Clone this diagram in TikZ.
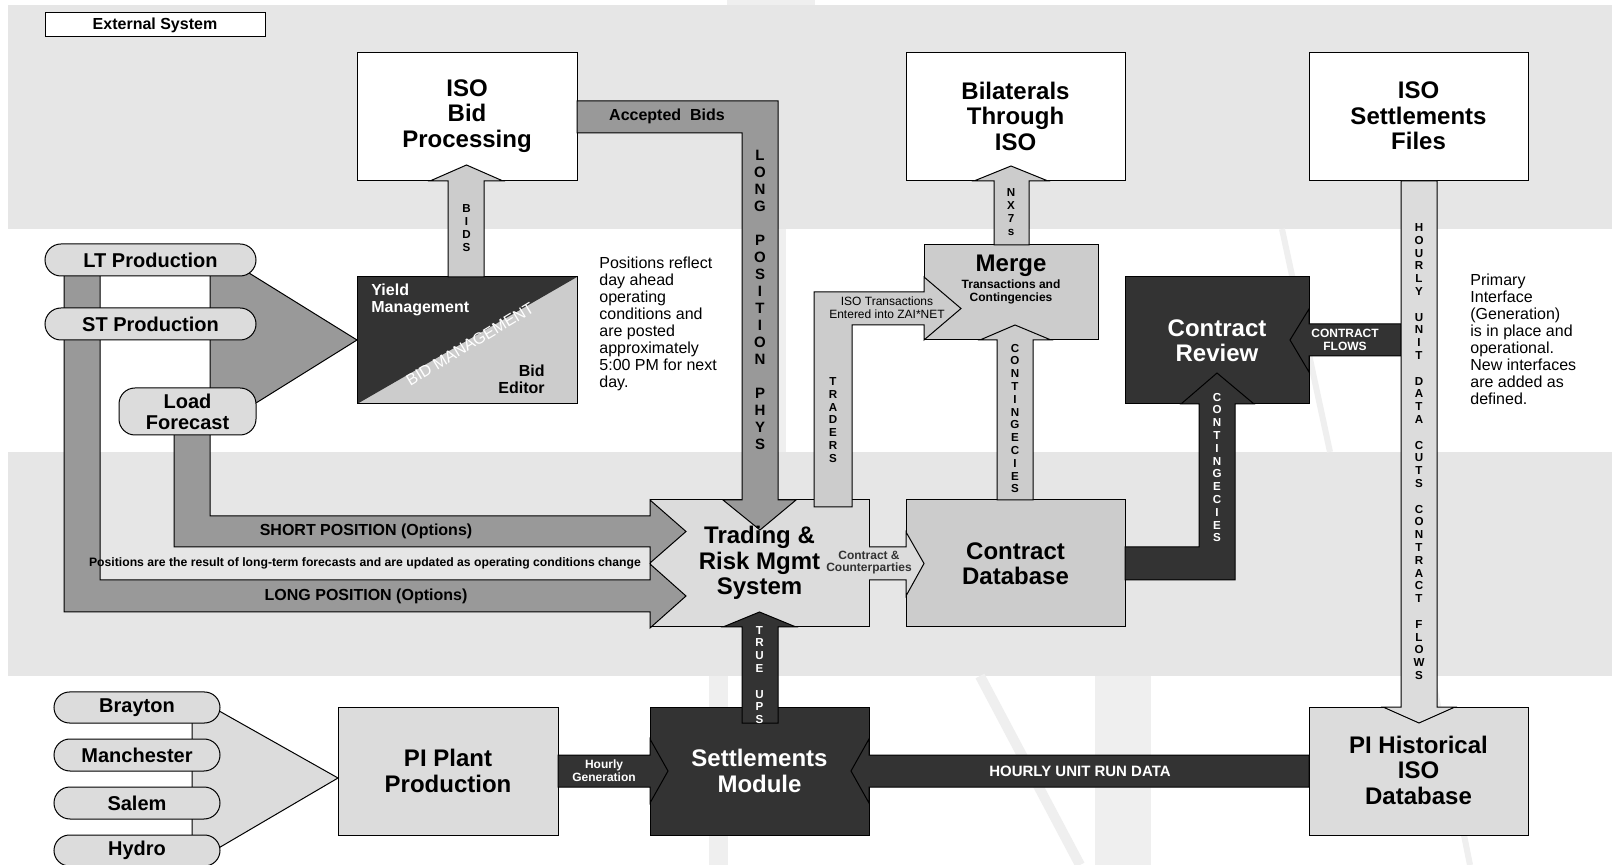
\documentclass[tikz,border=0pt]{standalone}
\usepackage{fontspec}
\setmainfont{Liberation Sans}
\definecolor{band}{HTML}{E6E6E6}
\definecolor{midg}{HTML}{999999}
\definecolor{lightg}{HTML}{CCCCCC}
\definecolor{darkg}{HTML}{333333}
\definecolor{hatchg}{HTML}{DCDCDC}
\definecolor{wmark}{HTML}{EFEFEF}
\tikzset{
  edge/.style={draw=black, line width=0.5pt},
  boxnode/.style={edge, inner sep=0pt, outer sep=0pt},
  title/.style={inner sep=0pt, align=center, font=\bfseries\fontsize{12pt}{12.75pt}\selectfont},
  ovalnode/.style={edge, fill=hatchg, rounded corners=8pt, inner sep=0pt, outer sep=0pt, align=center, font=\bfseries\fontsize{10pt}{10.5pt}\selectfont},
  vlet/.style={inner sep=0pt, align=center, font=\bfseries\fontsize{5.8pt}{6.4pt}\selectfont},
  vbig/.style={inner sep=0pt, align=center, font=\bfseries\fontsize{7.5pt}{8.5pt}\selectfont},
  lbl/.style={inner sep=0pt, align=center},
  fatgray/.style={edge, fill=midg},
  fatlight/.style={edge, fill=lightg},
  fatdark/.style={edge, fill=darkg},
  fathatch/.style={edge, fill=hatchg},
  note/.style={inner sep=0pt, align=left, font=\fontsize{8pt}{8.5pt}\selectfont}
}
\begin{document}
\begin{tikzpicture}[x=0.5pt,y=-0.5pt]
\useasboundingbox (0,0) rectangle (1612,865);
% background
\fill[white] (0,0) rectangle (1612,865);
\fill[band] (8,5) rectangle (1612,229);
\fill[band] (8,452) rectangle (1612,676);
% faint watermark
\fill[wmark] (727,0) rectangle (815,5);
\fill[wmark] (709,676) rectangle (728,865);
\fill[wmark] (1095,676) rectangle (1151,865);
\fill[wmark] (779,229) rectangle (786,452);
\draw[wmark, line width=5pt] (980,676) -- (1080,865);
\draw[wmark, line width=3pt] (1432,676) -- (1470,865);
\draw[wmark, line width=3pt] (1282,229) -- (1330,452);

% boxes
\node[boxnode, fill=white, minimum width=110pt, minimum height=12pt] (ext) at (155,25) {};
\node[boxnode, fill=white, minimum width=110pt, minimum height=64pt] (isobid) at (467,117) {};
\node[boxnode, fill=white, minimum width=109.5pt, minimum height=64pt] (bilat) at (1015.5,117) {};
\node[boxnode, fill=white, minimum width=109.5pt, minimum height=64pt] (isoset) at (1418.5,117) {};
\node[boxnode, fill=lightg, minimum width=110pt, minimum height=63.5pt,
  path picture={\fill[darkg] (path picture bounding box.north west) -- (path picture bounding box.north east) -- (path picture bounding box.south west) -- cycle;}] (bidmgmt) at (467,340.5) {};
\node[boxnode, fill=lightg, minimum width=87pt, minimum height=47.5pt] (merge) at (1011,292.5) {};
\node[boxnode, fill=darkg, minimum width=92pt, minimum height=63.5pt] (creview) at (1217,340.5) {};
\node[boxnode, fill=hatchg, minimum width=109.5pt, minimum height=63.5pt] (trading) at (759.5,563.5) {};
\node[boxnode, fill=lightg, minimum width=109.5pt, minimum height=63.5pt] (cdb) at (1015.5,563.5) {};
\node[boxnode, fill=hatchg, minimum width=110pt, minimum height=64pt] (piplant) at (448,771) {};
\node[boxnode, fill=darkg, minimum width=109.5pt, minimum height=64pt] (settle) at (759.5,771) {};
\node[boxnode, fill=hatchg, minimum width=109.5pt, minimum height=64pt] (pihist) at (1418.5,771) {};

% left gray connectors
\draw[fatgray] (64,262) -- (64,612) -- (650,612) -- (650,628) -- (686,596) -- (650,564) -- (650,580) -- (100,580) -- (100,262) -- cycle;
\draw[fatgray] (174,420) -- (174,547) -- (650,547) -- (650,563) -- (686,531.5) -- (650,500) -- (650,516) -- (210,516) -- (210,420) -- cycle;
\draw[fatgray] (210,262) -- (249,262) -- (249,273) -- (357,340) -- (256,403) -- (210,403) -- cycle;
% lower funnel
\draw[fathatch] (192,703) -- (205,703) -- (338,778) -- (205,856) -- (192,856) -- cycle;

% ovals
\node[ovalnode, minimum width=105.5pt, minimum height=16pt] (lt) at (150.5,260) {LT Production};
\node[ovalnode, minimum width=105.5pt, minimum height=16pt] (st) at (150.5,324) {ST Production};
\node[ovalnode, minimum width=68.5pt, minimum height=23.5pt] (lf) at (187.5,411.5) {Load\\Forecast};
\node[ovalnode, minimum width=83pt, minimum height=15.5pt, rounded corners=7.75pt] (brayton) at (137,707.5) {Brayton};
\node[ovalnode, minimum width=83pt, minimum height=16pt] (manch) at (137,755) {Manchester};
\node[ovalnode, minimum width=83pt, minimum height=16pt] (salem) at (137,803) {Salem};
\node[ovalnode, minimum width=83pt, minimum height=15.5pt, rounded corners=7.75pt] (hydro) at (137,850.5) {Hydro};

% fat arrows
\draw[fatlight] (448,277) -- (448,181) -- (430,181) -- (466.5,165) -- (503,181) -- (484,181) -- (484,277) -- cycle;
\draw[fatgray] (577,101) -- (778,101) -- (778,500) -- (796,500) -- (760,530) -- (723,500) -- (742,500) -- (742,133) -- (577,133) -- cycle;
\draw[fatlight] (814,507) -- (814,292) -- (924,292) -- (924,277) -- (961,308.5) -- (924,340) -- (924,325) -- (852,325) -- (852,507) -- cycle;
\draw[fatlight] (994,245) -- (994,181) -- (974,181) -- (1011,166) -- (1048,181) -- (1029,181) -- (1029,245) -- cycle;
\draw[fatlight] (997,500) -- (997,340) -- (980,340) -- (1015,325) -- (1051,340) -- (1033,340) -- (1033,500) -- cycle;
\fill[hatchg] (867,547) -- (906,547) -- (906,532) -- (924,563.5) -- (906,596) -- (906,580) -- (867,580) -- cycle;
\draw[edge] (869,547) -- (906,547) -- (906,532) -- (924,563.5) -- (906,596) -- (906,580) -- (869,580);
\draw[fatdark] (1125,547) -- (1199,547) -- (1199,404) -- (1181,404) -- (1217,373) -- (1254,404) -- (1235,404) -- (1235,580) -- (1125,580) -- cycle;
\draw[fatdark] (1401,324) -- (1309,324) -- (1309,309) -- (1290,340) -- (1309,372) -- (1309,356) -- (1401,356) -- cycle;
\draw[fathatch] (1401,181) -- (1401,707) -- (1383,707) -- (1419,723) -- (1455,707) -- (1437,707) -- (1437,181) -- cycle;
\draw[fatdark] (1309,755) -- (869,755) -- (869,739) -- (851,771) -- (869,803) -- (869,787) -- (1309,787) -- cycle;
\draw[fatdark] (742,723) -- (742,627) -- (723,627) -- (759.5,612) -- (796,627) -- (778,627) -- (778,723) -- cycle;
\draw[fatdark] (558,755) -- (650,755) -- (650,739) -- (668,771) -- (650,803) -- (650,787) -- (558,787) -- cycle;

% box titles
\node[lbl, font=\bfseries\fontsize{8pt}{9pt}\selectfont] at (ext) {External System};
\node[title] at (467,116) {ISO\\Bid\\Processing};
\node[title] at (1015.5,116) {Bilaterals\\Through\\ISO};
\node[title] at (1418.5,116) {ISO\\Settlements\\Files};
\node[title] at (1011,266) {Merge};
\node[lbl, font=\bfseries\fontsize{6pt}{6.5pt}\selectfont] at (1011,291.5) {Transactions and\\Contingencies};
\node[title, text=white] at (creview) {Contract\\Review};
\node[title] at (759.5,563) {Trading \&\\Risk Mgmt\\System};
\node[title] at (cdb) {Contract\\Database};
\node[title] at (piplant) {PI Plant\\Production};
\node[title, text=white] at (settle) {Settlements\\Module};
\node[title] at (1418.5,770) {PI Historical\\ISO\\Database};
\node[lbl, anchor=west, align=left, text=white, font=\bfseries\fontsize{8pt}{8.5pt}\selectfont] at (371,299.5) {Yield\\Management};
\node[lbl, anchor=east, align=right, font=\bfseries\fontsize{8pt}{8.5pt}\selectfont] at (545,379.5) {Bid\\Editor};
\node[lbl, rotate=31, text=white, font=\fontsize{8pt}{8.5pt}\selectfont] at (470,344) {BID MANAGEMENT};

% arrow labels
\node[lbl, font=\bfseries\fontsize{8pt}{9pt}\selectfont] at (667,116) {Accepted\ \ Bids};
\node[vbig] at (760,299.5) {L\\O\\N\\G\\~\\P\\O\\S\\I\\T\\I\\O\\N\\~\\P\\H\\Y\\S};
\node[vlet] at (466.5,228) {B\\I\\D\\S};
\node[vlet] at (1011,212) {N\\X\\7\\s};
\node[vlet] at (833,420) {T\\R\\A\\D\\E\\R\\S};
\node[vlet] at (1015,418.5) {C\\O\\N\\T\\I\\N\\G\\E\\C\\I\\E\\S};
\node[vlet, text=white] at (1217,467.5) {C\\O\\N\\T\\I\\N\\G\\E\\C\\I\\E\\S};
\node[vlet] at (1419,451.5) {H\\O\\U\\R\\L\\Y\\~\\U\\N\\I\\T\\~\\D\\A\\T\\A\\~\\C\\U\\T\\S\\~\\C\\O\\N\\T\\R\\A\\C\\T\\~\\F\\L\\O\\W\\S};
\node[vlet, text=white] at (759.5,675) {T\\R\\U\\E\\~\\U\\P\\S};
\node[lbl, font=\fontsize{6pt}{6.5pt}\selectfont] at (887,307.5) {ISO Transactions\\Entered into ZAI*NET};
\node[lbl, text=darkg, font=\bfseries\fontsize{6pt}{6pt}\selectfont] at (869,563) {Contract \&\\Counterparties};
\node[lbl, text=white, font=\bfseries\fontsize{6pt}{6.5pt}\selectfont] at (1345,339.5) {CONTRACT\\FLOWS};
\node[lbl, text=white, font=\bfseries\fontsize{7.5pt}{8pt}\selectfont] at (1080,771) {HOURLY UNIT RUN DATA};
\node[lbl, text=white, font=\bfseries\fontsize{6pt}{6.5pt}\selectfont] at (604,770.5) {Hourly\\Generation};
\node[lbl, font=\bfseries\fontsize{8pt}{9pt}\selectfont] at (366,531) {SHORT POSITION (Options)};
\node[lbl, font=\bfseries\fontsize{8pt}{9pt}\selectfont] at (366,596) {LONG POSITION (Options)};
\node[lbl, font=\bfseries\fontsize{6.1pt}{6.5pt}\selectfont] at (365,563) {Positions are the result of long-term forecasts and are updated as operating conditions change};
\node[note, anchor=west] at (599,323.5) {Positions reflect\\day ahead\\operating\\conditions and\\are posted\\approximately\\5:00 PM for next\\day.};
\node[note, anchor=west] at (1470,339.5) {Primary\\Interface\\(Generation)\\is in place and\\operational.\\New interfaces\\are added as\\defined.};
\end{tikzpicture}
\end{document}
